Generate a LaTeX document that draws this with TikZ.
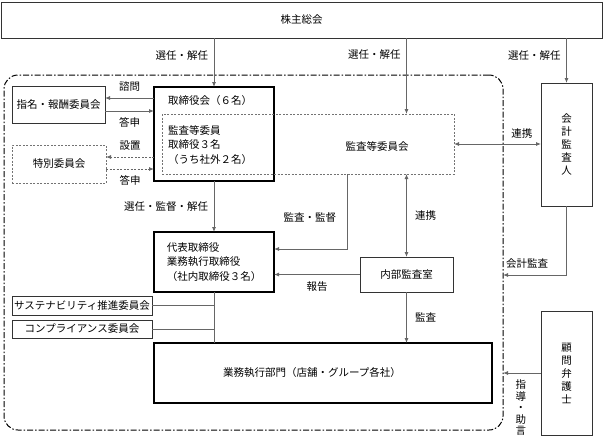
\documentclass[tikz,border=0pt]{standalone}
\usepackage{fontspec}
\setmainfont{Noto Sans CJK JP}
\usetikzlibrary{arrows.meta,positioning}

\begin{document}
\begin{tikzpicture}[x=1pt,y=-1pt,
  every node/.style={font=\fontsize{10.5}{14.5}\selectfont, inner sep=0pt, outer sep=0pt},
  box/.style={draw=black!80, line width=0.8pt, align=center},
  thick box/.style={draw=black, line width=1.2pt, align=left},
  dash box/.style={draw=black!55, line width=0.7pt, dash pattern=on 2pt off 1.5pt, align=center},
  frame box/.style={draw=black, line width=1pt, rounded corners=14pt, dash pattern=on 6pt off 2pt on 1.5pt off 2pt},
  tate/.style={align=center, font=\fontsize{10.5}{13}\selectfont},
  lbl/.style={inner sep=2pt},
  gray edge/.style={draw=black!60, line width=0.8pt},
  dash edge/.style={dash pattern=on 2pt off 1.5pt},
  arr/.style={gray edge, -{Latex[length=5pt,width=4pt]}},
  darr/.style={gray edge, {Latex[length=5pt,width=4pt]}-{Latex[length=5pt,width=4pt]}}]
\useasboundingbox (0,0) rectangle (603,440);

% boxes
\node[box, minimum width=601, minimum height=36] (soukai) at (301.5,20) {株主総会};
\node[frame box, minimum width=499, minimum height=355] (waku) at (253.5,252.5) {};
\node[thick box, minimum width=120, minimum height=94] (torishimari) at (214,134) {};
\node[anchor=west] (torishimari t) at (168,101) {取締役会（６名）};
\node[dash box, minimum width=292, minimum height=60] (kansa) at (308,144) {};
\node[anchor=west, align=left] (kansa m) at (168,145) {監査等委員\\取締役３名\\（うち社外２名）};
\node (kansa t) at (377,146) {監査等委員会};
\node[box, minimum width=93, minimum height=37] (shimei) at (58.5,104.5) {指名・報酬委員会};
\node[dash box, minimum width=94, minimum height=38] (tokubetsu) at (59,164) {特別委員会};
\node[box, tate, minimum width=51, minimum height=123] (kaikei) at (566.5,144.5) {会\\計\\監\\査\\人};
\node[thick box, minimum width=120, minimum height=60] (daihyo) at (214,262) {代表取締役\\業務執行取締役\\（社内取締役３名）};
\node[box, minimum width=93, minimum height=35] (naibu) at (406.5,274.5) {内部監査室};
\node[thick box, minimum width=338, minimum height=60] (gyomu) at (323,373) {};
\node (gyomu t) at (312,373) {業務執行部門（店舗・グループ各社）};
\node[box, minimum width=140, minimum height=19] (sus) at (82,305.5) {サステナビリティ推進委員会};
\node[box, minimum width=140, minimum height=18] (comp) at (82,329) {コンプライアンス委員会};
\node[box, tate, minimum width=51, minimum height=124] (komon) at (566.5,373) {顧\\問\\弁\\護\\士};

% connectors
\draw[arr] (soukai.south -| torishimari) -- node[lbl, pos=.35, left=4pt] {選任・解任} (torishimari.north);
\draw[arr] (soukai.south -| naibu) -- node[lbl, pos=.22, left=4pt] {選任・解任} (kansa.north -| naibu);
\draw[arr] (soukai.south -| kaikei) -- node[lbl, pos=.38, left=4pt] {選任・解任} (kaikei.north);
\draw[arr] (torishimari.west |- 0,98) -- node[lbl, above=5pt] {諮問} (shimei.east |- 0,98);
\draw[arr] (shimei.east |- 0,111) -- node[lbl, below=5pt] {答申} (torishimari.west |- 0,111);
\draw[arr, dash edge] (torishimari.west |- 0,157) -- node[lbl, above=5pt] {設置} (tokubetsu.east |- 0,157);
\draw[arr, dash edge] (tokubetsu.east |- 0,169) -- node[lbl, below=5pt] {答申} (torishimari.west |- 0,169);
\draw[darr] (kansa.east) -- node[lbl, pos=.78, above=4pt] {連携} (kaikei.west |- kansa.east);
\draw[arr] (torishimari.south) -- node[lbl, midway, left=4pt] {選任・監督・解任} (daihyo.north);
\draw[arr] (kansa.south -| 347,0) |- node[lbl, pos=.29, left=9pt] {監査・監督} (daihyo.east |- 0,249);
\draw[darr] (kansa.south -| naibu) -- node[lbl, midway, right=6.5pt] {連携} (naibu.north);
\draw[arr] (naibu.west) -- node[lbl, midway, below=5.5pt] {報告} (daihyo.east |- naibu.west);
\draw[arr] (naibu.south) -- node[lbl, midway, right=6.5pt] {監査} (gyomu.north -| naibu);
\draw[gray edge] (daihyo.south) -- (gyomu.north -| daihyo);
\draw[gray edge] (sus.east) -- (sus.east -| daihyo);
\draw[gray edge] (comp.east) -- (comp.east -| daihyo);
\draw[arr] (kaikei.south) |- node[lbl, pos=.81, above=4.75pt] {会計監査} (waku.east |- 0,275);
\draw[arr] (komon.west) -- node[lbl, pos=.53, below=5pt, align=center, font=\fontsize{10.5}{11.5}\selectfont] {指\\導\\・\\助\\言} (waku.east |- komon.west);

\end{tikzpicture}
\end{document}
